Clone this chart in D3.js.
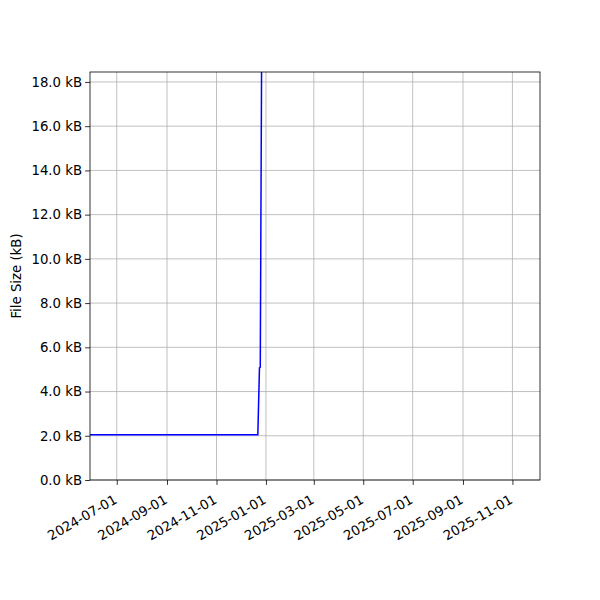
<!DOCTYPE html>
<html>
<head>
<meta charset="utf-8">
<script src="https://cdn.jsdelivr.net/npm/d3@7"></script>
<style>
  body { margin: 0; background: #fff; }
  svg text { font-family: "DejaVu Sans", sans-serif; }
</style>
</head>
<body>
<div id="chart"></div>
<script>
// data
const dates = ['2024-05-29', '2024-12-22', '2024-12-24', '2024-12-25', '2024-12-27', '2025-01-10'];
const sizes = [2.05, 2.05, 5.07, 5.1, 22, 40];
const xTicks = ['2024-07-01', '2024-09-01', '2024-11-01', '2025-01-01', '2025-03-01',
                '2025-05-01', '2025-07-01', '2025-09-01', '2025-11-01'];
const yTicks = [0, 2, 4, 6, 8, 10, 12, 14, 16, 18];

const parse = d3.utcParse('%Y-%m-%d');
const points = dates.map((d, i) => ({date: parse(d), size: sizes[i]}));

const w = 600, h = 600;
const plotL = 90, plotR = 540, plotT = 72, plotB = 480;

const xScale = d3.scaleUtc()
  .domain([parse('2024-05-29'), parse('2025-12-05')])
  .range([plotL, plotR]);

const yScale = d3.scaleLinear()
  .domain([0, 18.45])
  .range([plotB, plotT]);

const svg = d3.select('#chart')
  .append('svg')
  .attr('width', w)
  .attr('height', h);

svg.append('defs').append('clipPath')
  .attr('id', 'plot-clip')
  .append('rect')
  .attr('x', plotL).attr('y', plotT)
  .attr('width', plotR - plotL).attr('height', plotB - plotT);

//Grid
svg.append('g')
  .selectAll('line')
  .data(xTicks)
  .enter()
  .append('line')
  .attr('x1', d => xScale(parse(d))).attr('x2', d => xScale(parse(d)))
  .attr('y1', plotT).attr('y2', plotB)
  .attr('stroke', '#b0b0b0').attr('stroke-width', 0.8);

svg.append('g')
  .selectAll('line')
  .data(yTicks)
  .enter()
  .append('line')
  .attr('x1', plotL).attr('x2', plotR)
  .attr('y1', d => yScale(d)).attr('y2', d => yScale(d))
  .attr('stroke', '#b0b0b0').attr('stroke-width', 0.8);

//Line
const line = d3.line()
  .x(d => xScale(d.date))
  .y(d => yScale(d.size));

svg.append('path')
  .datum(points)
  .attr('clip-path', 'url(#plot-clip)')
  .attr('fill', 'none')
  .attr('stroke', '#0000ff')
  .attr('stroke-width', 1.5)
  .attr('d', line);

//Axes
const xAxis = d3.axisBottom(xScale)
  .tickValues(xTicks.map(parse))
  .tickFormat(d3.utcFormat('%Y-%m-%d'))
  .tickSize(4.9)
  .tickSizeOuter(0);

const gx = svg.append('g')
  .attr('transform', `translate(0, ${plotB})`)
  .call(xAxis);

gx.selectAll('text')
  .attr('font-size', 13.3)
  .attr('fill', '#000')
  .attr('text-anchor', 'end')
  .attr('dy', '0.71em')
  .attr('y', 0)
  .attr('transform', 'translate(-4, 14) rotate(-30)');

const yAxis = d3.axisLeft(yScale)
  .tickValues(yTicks)
  .tickFormat(d => d3.format('.1f')(d) + ' kB')
  .tickSize(4.9)
  .tickSizeOuter(0);

const gy = svg.append('g')
  .attr('transform', `translate(${plotL}, 0)`)
  .call(yAxis);

gy.selectAll('text')
  .attr('font-size', 13.3)
  .attr('fill', '#000');

svg.selectAll('.domain').remove();
svg.selectAll('.tick line').attr('stroke', '#000').attr('stroke-width', 0.8);

//Frame
svg.append('rect')
  .attr('x', plotL).attr('y', plotT)
  .attr('width', plotR - plotL).attr('height', plotB - plotT)
  .attr('fill', 'none')
  .attr('stroke', '#000')
  .attr('stroke-width', 0.8);

//Label
svg.append('text')
  .attr('transform', `translate(21, ${(plotT + plotB) / 2}) rotate(-90)`)
  .attr('text-anchor', 'middle')
  .attr('font-size', 13.3)
  .text('File Size (kB)');
</script>
</body>
</html>
